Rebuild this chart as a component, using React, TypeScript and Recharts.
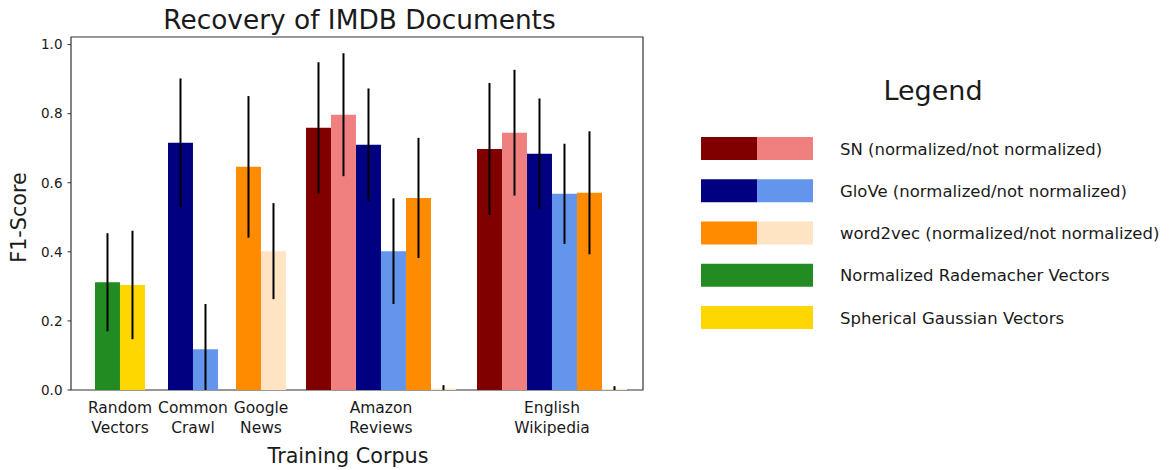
import React from 'react';
import { ComposedChart, Bar, Cell, ErrorBar, XAxis, YAxis, ReferenceArea } from 'recharts';

const FONT = '"DejaVu Sans", Verdana, sans-serif';
const INK = '#1a1a1a';
const FRAME = '#333333';

// colours (matplotlib named colours)
const MAROON = '#800000';
const LIGHTCORAL = '#F08080';
const NAVY = '#000080';
const CORNFLOWER = '#6495ED';
const DARKORANGE = '#FF8C00';
const BISQUE = '#FFE4C4';
const FORESTGREEN = '#228B22';
const GOLD = '#FFD700';

// training corpora and where each group of bars starts on the x scale (in bar widths)
const CORPORA = ['Random Vectors', 'Common Crawl', 'Google News', 'Amazon Reviews', 'English Wikipedia'];
const CORPUS_START = [0.96, 3.88, 6.6, 9.4, 16.24];
const X_MAX = 22.88;
const Y_MAX = 1.022;
const Y_TICKS = [0, 0.2, 0.4, 0.6, 0.8, 1.0];

// mean F1 per corpus (null = embedding not available for that corpus)
const RADEMACHER = [0.312, null, null, null, null];
const GAUSSIAN = [0.304, null, null, null, null];
const SN_NORM = [null, null, null, 0.759, 0.698];
const SN_RAW = [null, null, null, 0.797, 0.745];
const GLOVE_NORM = [null, 0.716, null, 0.71, 0.684];
const GLOVE_RAW = [null, 0.118, null, 0.402, 0.568];
const W2V_NORM = [null, null, 0.646, 0.556, 0.571];
const W2V_RAW = [null, null, 0.402, 0.004, 0.003];

// standard deviations, drawn as error bars
const RADEMACHER_SD = [0.142, null, null, null, null];
const GAUSSIAN_SD = [0.157, null, null, null, null];
const SN_NORM_SD = [null, null, null, 0.19, 0.191];
const SN_RAW_SD = [null, null, null, 0.178, 0.182];
const GLOVE_NORM_SD = [null, 0.186, null, 0.163, 0.16];
const GLOVE_RAW_SD = [null, 0.131, null, 0.153, 0.145];
const W2V_NORM_SD = [null, null, 0.205, 0.174, 0.178];
const W2V_RAW_SD = [null, null, 0.139, 0.01, 0.008];

// bar order inside each corpus group
const SERIES = [
  { mean: RADEMACHER, sd: RADEMACHER_SD, color: FORESTGREEN },
  { mean: GAUSSIAN, sd: GAUSSIAN_SD, color: GOLD },
  { mean: SN_NORM, sd: SN_NORM_SD, color: MAROON },
  { mean: SN_RAW, sd: SN_RAW_SD, color: LIGHTCORAL },
  { mean: GLOVE_NORM, sd: GLOVE_NORM_SD, color: NAVY },
  { mean: GLOVE_RAW, sd: GLOVE_RAW_SD, color: CORNFLOWER },
  { mean: W2V_NORM, sd: W2V_NORM_SD, color: DARKORANGE },
  { mean: W2V_RAW, sd: W2V_RAW_SD, color: BISQUE },
];

const LEGEND = [
  { label: 'SN (normalized/not normalized)', colors: [MAROON, LIGHTCORAL] },
  { label: 'GloVe (normalized/not normalized)', colors: [NAVY, CORNFLOWER] },
  { label: 'word2vec (normalized/not normalized)', colors: [DARKORANGE, BISQUE] },
  { label: 'Normalized Rademacher Vectors', colors: [FORESTGREEN] },
  { label: 'Spherical Gaussian Vectors', colors: [GOLD] },
];

type Row = { x: number; f1: number; sd: number; color: string };

// one row per bar, laid out left to right within its corpus group
const rows: Row[] = [];
const tickPos: number[] = [];
CORPORA.forEach((_, c) => {
  let slot = 0;
  SERIES.forEach((s) => {
    const v = s.mean[c];
    if (v == null) return;
    rows.push({ x: CORPUS_START[c] + slot + 0.5, f1: v, sd: s.sd[c] as number, color: s.color });
    slot++;
  });
  tickPos.push(CORPUS_START[c] + slot / 2);
});

// error range, cut off at the x axis like the plot clipping does
const errRange = (r: Row) => [Math.min(r.sd, r.f1), r.sd];

const CorpusTick = ({ x, y, index }: any) => {
  const lines = CORPORA[index].split(' ');
  return (
    <text x={x} y={y} textAnchor="middle" fontFamily={FONT} fontSize={15.5} fill={INK}>
      {lines.map((line, i) => (
        <tspan key={i} x={x} dy={i === 0 ? 23.3 : 19.4}>
          {line}
        </tspan>
      ))}
    </text>
  );
};

export default function App() {
  return (
    <div style={{ position: 'absolute', left: 0, top: 0, width: 1173, height: 470, background: '#fff' }}>
      <ComposedChart
        width={660}
        height={470}
        data={rows}
        margin={{ top: 37, right: 17, bottom: 20, left: 21 }}
      >
        <XAxis
          type="number"
          dataKey="x"
          domain={[0, X_MAX]}
          ticks={tickPos}
          interval={0}
          allowDataOverflow
          tick={<CorpusTick />}
          tickLine={false}
          axisLine={false}
          tickSize={0}
          tickMargin={0}
          height={60}
        />
        <YAxis
          type="number"
          domain={[0, Y_MAX]}
          ticks={Y_TICKS}
          allowDataOverflow
          tickFormatter={(v: number) => v.toFixed(1)}
          width={50}
          tickSize={3.5}
          tickMargin={5}
          axisLine={false}
          tickLine={{ stroke: FRAME }}
          tick={{ fontSize: 13.5, fill: INK, fontFamily: FONT }}
        />
        {/* adjacent bars sit exactly one unit apart, so keep the size just under that band */}
        <Bar dataKey="f1" barSize={24.98} isAnimationActive={false}>
          {rows.map((r, i) => (
            <Cell key={i} fill={r.color} />
          ))}
          <ErrorBar dataKey={errRange} direction="y" width={0} stroke="#000" strokeWidth={2} isAnimationActive={false} />
        </Bar>
        <ReferenceArea
          x1={0}
          x2={X_MAX}
          y1={0}
          y2={Y_MAX}
          fill="none"
          stroke={FRAME}
          strokeWidth={1.2}
          ifOverflow="visible"
        />
      </ComposedChart>

      <svg
        width={1173}
        height={470}
        style={{ position: 'absolute', left: 0, top: 0, pointerEvents: 'none' }}
        fontFamily={FONT}
      >
        <text x={359.5} y={29} textAnchor="middle" fontSize={26.4} fill={INK}>
          Recovery of IMDB Documents
        </text>
        <text x={348} y={463} textAnchor="middle" fontSize={20.7} fill={INK}>
          Training Corpus
        </text>
        <text
          x={26}
          y={217.5}
          textAnchor="middle"
          fontSize={20.7}
          fill={INK}
          transform="rotate(-90 26 217.5)"
        >
          F1-Score
        </text>

        <text x={933} y={100} textAnchor="middle" fontSize={27} fill={INK}>
          Legend
        </text>
        {LEGEND.map((item, i) => {
          const top = 137 + i * 42.25;
          const w = 112 / item.colors.length;
          return (
            <g key={item.label}>
              {item.colors.map((c, j) => (
                <rect key={j} x={701 + j * w} y={top} width={w} height={23} fill={c} />
              ))}
              <text x={840} y={top + 17.5} fontSize={16.5} fill={INK}>
                {item.label}
              </text>
            </g>
          );
        })}
      </svg>
    </div>
  );
}
